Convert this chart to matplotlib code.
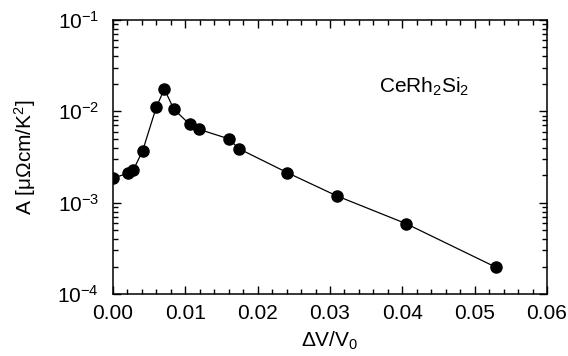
import matplotlib
matplotlib.use("Agg")
import matplotlib.pyplot as plt
from matplotlib.ticker import MultipleLocator, LogLocator, FixedLocator

plt.rcParams['font.family'] = ['Liberation Sans', 'DejaVu Sans']
plt.rcParams['mathtext.fontset'] = 'custom'
plt.rcParams['mathtext.rm'] = 'Liberation Sans'
plt.rcParams['mathtext.it'] = 'Liberation Sans'
plt.rcParams['mathtext.default'] = 'regular'

# data
dv = [0.0000, 0.0021, 0.0028, 0.0041, 0.0060, 0.0071, 0.0084, 0.0106, 0.0119,
      0.0160, 0.0174, 0.0241, 0.0309, 0.0405, 0.0529]
A = [1.86e-3, 2.10e-3, 2.27e-3, 3.7e-3, 1.12e-2, 1.75e-2, 1.06e-2, 7.2e-3, 6.35e-3,
     5.0e-3, 3.9e-3, 2.13e-3, 1.19e-3, 5.9e-4, 1.97e-4]

xticks = [0.00, 0.01, 0.02, 0.03, 0.04, 0.05, 0.06]
xticklabels = ['0.00', '0.01', '0.02', '0.03', '0.04', '0.05', '0.06']
yticks = [1e-4, 1e-3, 1e-2, 1e-1]
yticklabels = ['$10^{-4}$', '$10^{-3}$', '$10^{-2}$', '$10^{-1}$']

fig = plt.figure(figsize=(5.68, 3.56), dpi=100)
ax = fig.add_axes([113/568, 1 - 294/356, 434/568, 274/356])

ax.plot(dv, A, '-', color='black', lw=0.9, marker='o', ms=8, mfc='black', mec='black')
ax.set_yscale('log')
ax.set_xlim(0, 0.06)
ax.set_ylim(1e-4, 1e-1)

ax.set_xticks(xticks)
ax.set_xticklabels(xticklabels)
ax.xaxis.set_minor_locator(MultipleLocator(0.002))
ax.yaxis.set_major_locator(FixedLocator(yticks))
ax.set_yticklabels(yticklabels)
ax.yaxis.set_minor_locator(LogLocator(base=10, subs=range(2, 10)))

for s in ax.spines.values():
    s.set_linewidth(1.1)
ax.tick_params(which='both', direction='in', top=True, right=True, width=1.0, labelsize=15)
ax.tick_params(which='major', length=6)
ax.tick_params(which='minor', length=3.5)
ax.tick_params(axis='x', which='major', pad=7)
ax.tick_params(axis='y', which='major', pad=10)

ax.set_xlabel(r'$\Delta$V/V$_0$', fontsize=15, labelpad=5)
ax.set_ylabel('A [μΩcm/K$^2$]', fontsize=15, labelpad=14)

ax.text(0.613, 0.734, r'CeRh$_2$Si$_2$', transform=ax.transAxes, fontsize=15,
        va='baseline', ha='left')

fig.savefig('out.png', dpi=100)
